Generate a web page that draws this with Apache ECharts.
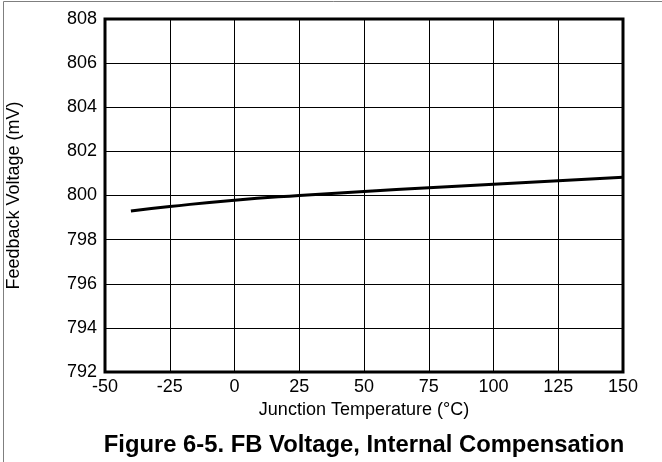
<!DOCTYPE html>
<html>
<head>
<meta charset="utf-8">
<script src="https://cdn.jsdelivr.net/npm/echarts@6/dist/echarts.min.js"></script>
<style>
  html, body { margin: 0; padding: 0; background: #fff; }
  #chart { width: 662px; height: 462px; }
</style>
</head>
<body>
<div id="chart"></div>
<script>
// Junction temperature (°C) and measured feedback voltage (mV)
const temperature = [-40, -25, 0, 25, 50, 75, 100, 125, 150];
const fbVoltage = [799.30, 799.50, 799.79, 800.00, 800.18, 800.35, 800.51, 800.67, 800.83];

const xTicks = [-50, -25, 0, 25, 50, 75, 100, 125, 150];
const yTicks = [792, 794, 796, 798, 800, 802, 804, 806, 808];

const titleText = 'Figure 6-5. FB Voltage, Internal Compensation';
const xName = 'Junction Temperature (\u00B0C)';
const yName = 'Feedback Voltage (mV)';

const font = '"Liberation Sans", Arial, sans-serif';
const chart = echarts.init(document.getElementById('chart'), null, { renderer: 'canvas' });

const G = { left: 105, top: 19, width: 518, height: 353 };

chart.setOption({
  animation: false,
  backgroundColor: '#fff',
  title: {
    text: titleText,
    left: 359,
    top: 428,
    textAlign: 'center',
    textStyle: { fontFamily: font, fontSize: 23.8, fontWeight: 'bold', color: '#000' }
  },
  graphic: [
    {
      type: 'rect',
      shape: { x: 3.5, y: 1.5, width: 700, height: 500 },
      style: { fill: 'none', stroke: '#7f7f7f', lineWidth: 1 },
      silent: true
    }
  ],
  grid: {
    left: G.left, top: G.top, width: G.width, height: G.height,
    outerBoundsMode: 'none',
    containLabel: false,
    show: true, borderColor: '#000', borderWidth: 3, backgroundColor: 'transparent'
  },
  xAxis: {
    type: 'value',
    min: xTicks[0], max: xTicks[xTicks.length - 1], interval: 25,
    name: xName,
    nameLocation: 'middle',
    nameGap: 27,
    nameTextStyle: { fontFamily: font, fontSize: 18, color: '#000' },
    axisLine: { show: false },
    axisTick: { show: false },
    axisLabel: { fontFamily: font, fontSize: 18, color: '#000', margin: 6 },
    splitLine: { show: true, lineStyle: { color: '#000', width: 1 } }
  },
  yAxis: {
    type: 'value',
    min: yTicks[0], max: yTicks[yTicks.length - 1], interval: 2,
    name: yName,
    nameLocation: 'middle',
    nameGap: 82,
    nameTextStyle: { fontFamily: font, fontSize: 18, color: '#000' },
    axisLine: { show: false },
    axisTick: { show: false },
    axisLabel: { fontFamily: font, fontSize: 18, color: '#000', margin: 8 },
    splitLine: { show: true, lineStyle: { color: '#000', width: 1 } }
  },
  series: [
    {
      type: 'line',
      data: temperature.map((t, i) => [t, fbVoltage[i]]),
      smooth: true,
      symbol: 'none',
      lineStyle: { color: '#000', width: 3 },
      z: 5
    }
  ]
});
</script>
</body>
</html>
